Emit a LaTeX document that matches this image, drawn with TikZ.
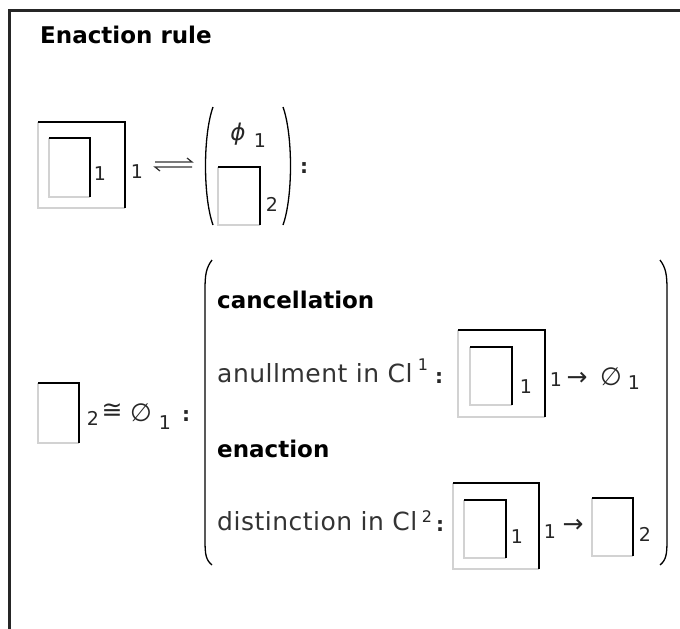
\documentclass[tikz,border=0pt]{standalone}
\usepackage{fontspec}
\setmainfont{DejaVu Sans}
\newfontfamily\widefont[LetterSpace=2]{DejaVu Sans}
\usepackage{tikz}
\usetikzlibrary{calc}

% distinction mark: gray left/bottom, black top/right
\newcommand{\markbox}[4]{%
  \draw[lite] (#1,#2) -- (#1,#4) -- (#3,#4);
  \draw[dark] (#1,#2) -- (#3,#2) -- (#3,#4);
}

\begin{document}
\begin{tikzpicture}[x=1pt,y=-1pt,
    head/.style={font=\fontsize{23}{27}\selectfont\bfseries,inner sep=0pt,anchor=base west},
    txt/.style={font=\widefont\fontsize{25}{29}\selectfont,inner sep=0pt,anchor=base west,text=black!80},
    idx/.style={font=\fontsize{19}{22}\selectfont,inner sep=0pt,anchor=base,text=black!85},
    sup/.style={font=\fontsize{16}{19}\selectfont,inner sep=0pt,anchor=base,text=black!85},
    sym/.style={font=\fontsize{25}{29}\selectfont,inner sep=0pt,anchor=center,text=black!85},
    colon/.style={font=\fontsize{20}{24}\selectfont\bfseries,inner sep=0pt,anchor=base,text=black!85},
    lite/.style={gray!35,line width=1.2pt},
    dark/.style={black,line width=2pt},
    paren/.style={black,line width=1.3pt}]
  \useasboundingbox (0,0) rectangle (680,629);
  % frame
  \draw[black!85,line width=3pt] (9,629) -- (9,10) -- (680,10);
  \node[head] (title) at (40,43) {Enaction rule};

  % first line
  \markbox{38}{122}{125}{208}
  \markbox{49}{138}{90}{197}
  \node[idx] (in1) at (100,180) {1};
  \node[idx] (out1) at (137,178) {1};
  \draw[line width=1.2pt,black!80] (155,162) -- (192,162) -- (187,158);
  \draw[line width=1.2pt,black!80] (192,167) -- (155,167) -- (160,171);
  \draw[paren] (213,107) .. controls (203,135) and (203,197) .. (213,225);
  \draw[paren] (283,107) .. controls (293,135) and (293,197) .. (283,225);
  \node[sym,font=\fontsize{23}{27}\selectfont\itshape] (phi) at (238,134) {ϕ};
  \node[idx] (phi1) at (260,147) {1};
  \markbox{218}{167}{260}{225}
  \node[idx] (top2) at (272,211) {2};
  \node[colon] (col1) at (304,173) {:};

  % second line
  \markbox{38}{383}{79}{443}
  \node[idx] (sub2) at (93,425) {2};
  \node[sym] (cong) at (112,411) {≅};
  \node[sym] (void) at (141,413) {∅};
  \node[idx] (void1) at (165,429) {1};
  \node[colon] (col2) at (186,421) {:};
  \draw[paren] (212,260) .. controls (206,268) and (205,275) .. (205,290)
    -- (205,540) .. controls (205,555) and (206,560) .. (212,565);
  \draw[paren] (660,260) .. controls (666,268) and (667,275) .. (667,290)
    -- (667,540) .. controls (667,555) and (666,560) .. (660,565);

  % cancellation
  \node[head] (canc) at (217,308) {cancellation};
  \node[txt] (anul) at (217,382) {anullment in Cl};
  \node[sup] (cl1) at (423,370) {1};
  \node[colon] (col3) at (439,383) {:};
  \markbox{458}{330}{545}{417}
  \markbox{470}{347}{512}{405}
  \node[idx] (a1) at (526,393) {1};
  \node[idx] (a2) at (556,386) {1};
  \node[sym] (to1) at (577,379) {→};
  \node[sym] (void2) at (611,377) {∅};
  \node[idx] (void3) at (634,389) {1};

  % enaction
  \node[head] (enac) at (217,457) {enaction};
  \node[txt] (dist) at (217,530) {distinction in Cl};
  \node[sup] (cl2) at (427,522) {2};
  \node[colon] (col4) at (440,531) {:};
  \markbox{453}{483}{539}{569}
  \markbox{464}{500}{506}{558}
  \node[idx] (e1) at (517,543) {1};
  \node[idx] (e2) at (550,538) {1};
  \node[sym] (to2) at (573,526) {→};
  \markbox{592}{498}{633}{556}
  \node[idx] (e3) at (645,541) {2};
\end{tikzpicture}
\end{document}
